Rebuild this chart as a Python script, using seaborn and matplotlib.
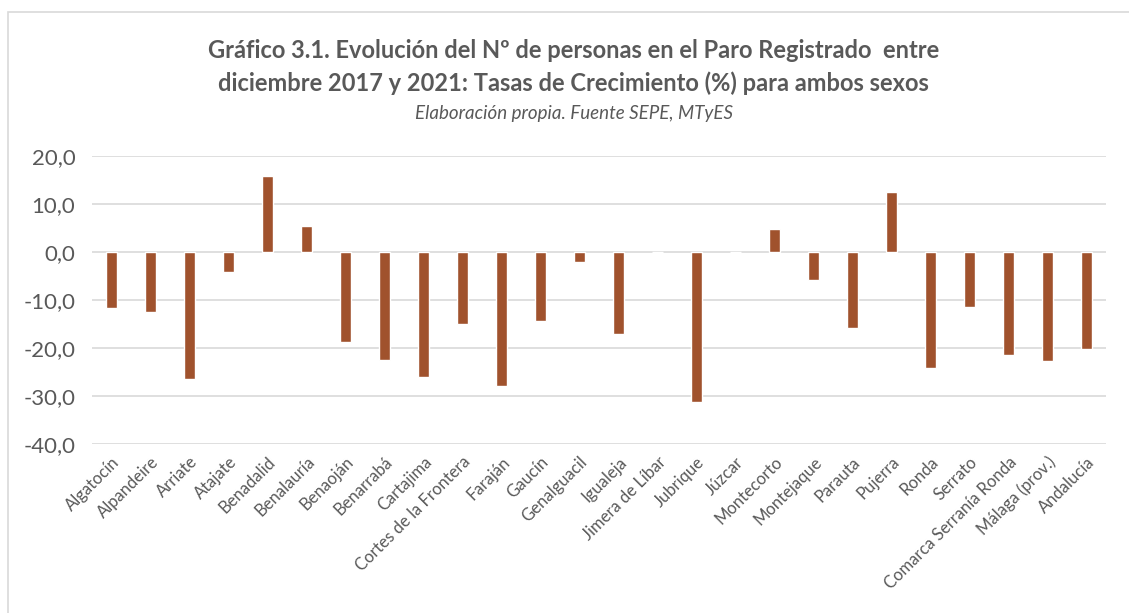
import matplotlib
matplotlib.use("Agg")
import matplotlib.pyplot as plt
import matplotlib.patches as mpatches
from matplotlib.ticker import FuncFormatter
import pandas as pd
import seaborn as sns

municipios = ['Algatocín', 'Alpandeire', 'Arriate', 'Atajate', 'Benadalid', 'Benalauría',
              'Benaoján', 'Benarrabá', 'Cartajima', 'Cortes de la Frontera', 'Faraján',
              'Gaucín', 'Genalguacil', 'Igualeja', 'Jimera de Líbar', 'Jubrique', 'Júzcar',
              'Montecorto', 'Montejaque', 'Parauta', 'Pujerra', 'Ronda', 'Serrato',
              'Comarca Serranía Ronda', 'Málaga (prov.)', 'Andalucía']
tasas = [-11.7, -12.6, -26.5, -4.2, 15.8, 5.5, -18.7, -22.6, -26.0, -14.9, -27.9,
         -14.3, -2.0, -17.1, 0.0, -31.2, 0.0, 4.7, -5.8, -15.9, 12.4, -24.2, -11.4,
         -21.5, -22.8, -20.3]
yticks = [-40, -30, -20, -10, 0, 10, 20]

df = pd.DataFrame({'municipio': municipios, 'tasa': tasas})

sns.set_style('white')
plt.rcParams['font.family'] = ['Lato', 'DejaVu Sans']
gris = '#595959'

fig = plt.figure(figsize=(11.29, 6.13), dpi=100)
ax = fig.add_axes([0.0815, 0.2757, 0.898, 0.4698])

sns.barplot(data=df, x='municipio', y='tasa', color='#A0522D', saturation=1,
            width=0.28, ax=ax, zorder=3)

ax.set_ylim(-40, 20)
ax.set_yticks(yticks)
ax.yaxis.set_major_formatter(FuncFormatter(lambda v, p: f'{v:.1f}'.replace('.', ',')))
ax.grid(axis='y', color='#D9D9D9', linewidth=1.2, zorder=0)
ax.set_xlim(-0.5, len(municipios) - 0.5)
for s in ax.spines.values():
    s.set_visible(False)
ax.set_xlabel('')
ax.set_ylabel('')
ax.tick_params(axis='y', labelsize=16, colors=gris, length=0, pad=12)
ax.tick_params(axis='x', labelsize=12, colors=gris, length=0, pad=7)
plt.setp(ax.get_xticklabels(), rotation=45, ha='right', rotation_mode='anchor')

fig.text(0.508, 0.918, 'Gráfico 3.1. Evolución del Nº de personas en el Paro Registrado  entre',
         ha='center', va='center', fontsize=17, fontweight='bold', color=gris)
fig.text(0.508, 0.864, 'diciembre 2017 y 2021: Tasas de Crecimiento (%) para ambos sexos',
         ha='center', va='center', fontsize=17, fontweight='bold', color=gris)
fig.text(0.508, 0.815, 'Elaboración propia. Fuente SEPE, MTyES',
         ha='center', va='center', fontsize=13.5, style='italic', color=gris)

fig.patches.append(mpatches.Rectangle((0.007, -0.01), 1.0, 0.99, transform=fig.transFigure,
                                      fill=False, edgecolor='#D9D9D9', linewidth=1.2))

plt.savefig('out.png', dpi=100)
